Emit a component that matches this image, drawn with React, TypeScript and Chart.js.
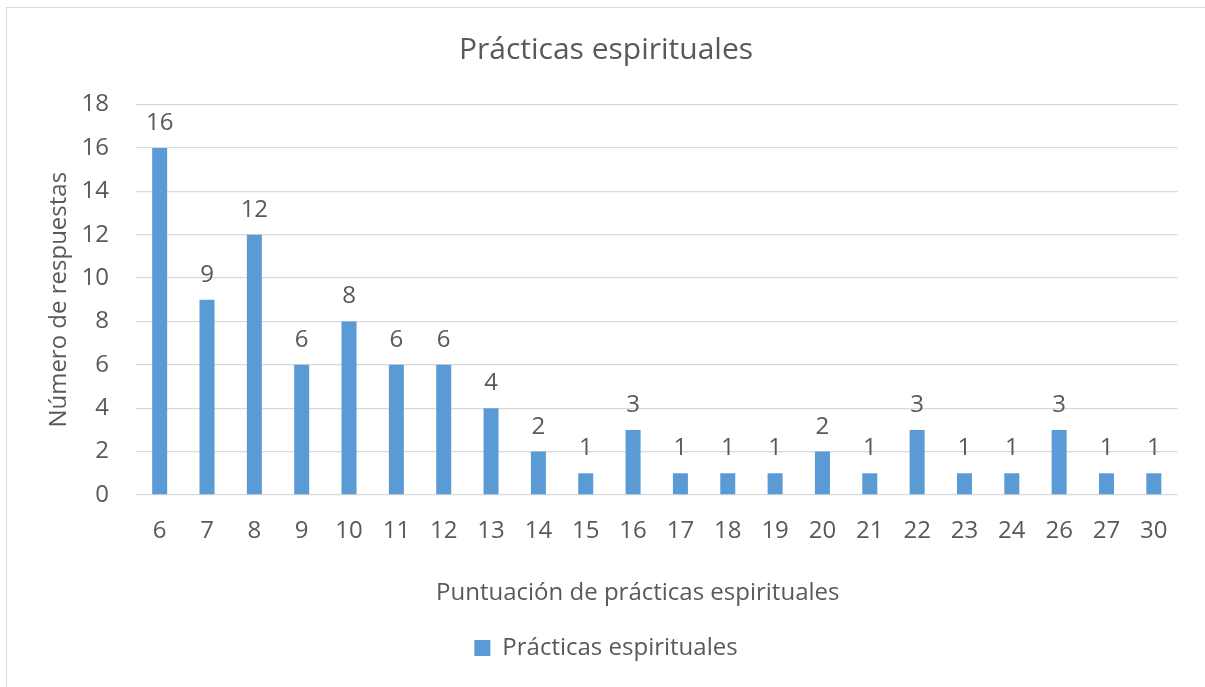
import React, { useEffect, useRef } from "react";
import { Chart, registerables } from "chart.js";

Chart.register(...registerables);

const chartTitle = "Prácticas espirituales";
const seriesName = "Prácticas espirituales";
const xAxisTitle = "Puntuación de prácticas espirituales";
const yAxisTitle = "Número de respuestas";
const categories = ["6", "7", "8", "9", "10", "11", "12", "13", "14", "15", "16", "17", "18", "19", "20", "21", "22", "23", "24", "26", "27", "30"];
const values = [16, 9, 12, 6, 8, 6, 6, 4, 2, 1, 3, 1, 1, 1, 2, 1, 3, 1, 1, 3, 1, 1];
const yMin = 0;
const yMax = 18;
const yStep = 2;

const FONT = "'Open Sans', 'Noto Sans', sans-serif";
const TEXT = "#595959";
const BAR = "#5B9BD5";
const GRID = "#d9d9d9";
const SIZE = 24;

const dataLabels = {
  id: "dataLabels",
  afterDatasetsDraw(chart: any) {
    const ctx = chart.ctx;
    const meta = chart.getDatasetMeta(0);
    ctx.save();
    ctx.font = `${SIZE}px ${FONT}`;
    ctx.fillStyle = TEXT;
    ctx.textAlign = "center";
    ctx.textBaseline = "alphabetic";
    meta.data.forEach((el: any, i: number) => {
      ctx.fillText(String(values[i]), el.x, el.y - 18);
    });
    ctx.restore();
  },
};

const xTitlePlugin = {
  id: "xTitle",
  afterDraw(chart: any) {
    const ctx = chart.ctx;
    const { left, right } = chart.chartArea;
    const xs = chart.scales.x;
    ctx.save();
    ctx.font = `${SIZE}px ${FONT}`;
    ctx.fillStyle = TEXT;
    ctx.textAlign = "center";
    ctx.textBaseline = "middle";
    ctx.fillText(xAxisTitle, (left + right) / 2 - 19, xs.bottom - 33);
    ctx.restore();
  },
};

export default function App() {
  const ref = useRef<HTMLCanvasElement>(null);
  useEffect(() => {
    const chart = new Chart(ref.current!, {
      type: "bar",
      data: {
        labels: categories,
        datasets: [
          {
            label: seriesName,
            data: values,
            backgroundColor: BAR,
            borderWidth: 0,
            barPercentage: 0.317,
            categoryPercentage: 1,
          },
        ],
      },
      options: {
        responsive: false,
        animation: false,
        layout: { padding: { left: 7, right: 0, top: 0, bottom: 17 } },
        plugins: {
          title: {
            display: true,
            text: chartTitle,
            color: TEXT,
            font: { family: FONT, size: 30, weight: "normal", lineHeight: 1.2 },
            padding: { top: 32, bottom: 36.5 },
          },
          legend: {
            display: true,
            position: "bottom",
            labels: {
              color: TEXT,
              font: { family: FONT, size: SIZE },
              boxWidth: 16,
              boxHeight: 16,
              padding: 10,
            },
          },
          tooltip: { enabled: false },
        },
        scales: {
          x: {
            grid: { display: false, drawTicks: false },
            border: { display: false },
            ticks: { color: TEXT, font: { family: FONT, size: SIZE }, padding: 22, maxRotation: 0, autoSkip: false },
            title: { display: false },
            afterFit(scale: any) {
              scale.height = 131;
            },
          },
          y: {
            min: yMin,
            max: yMax,
            grid: { color: GRID, lineWidth: 1.3, drawTicks: false },
            border: { display: false },
            ticks: { stepSize: yStep, color: TEXT, font: { family: FONT, size: SIZE }, padding: 27 },
            title: {
              display: true,
              text: yAxisTitle,
              color: TEXT,
              font: { family: FONT, size: SIZE },
              padding: { top: 37.6, bottom: 0 },
            },
            afterFit(scale: any) {
              scale.width = 129;
            },
          },
          yRight: {
            position: "right",
            min: yMin,
            max: yMax,
            grid: { display: false, drawTicks: false },
            border: { display: false },
            ticks: { display: false },
            afterFit(scale: any) {
              scale.width = 27.5;
            },
          },
        },
      },
      plugins: [dataLabels, xTitlePlugin],
    });
    return () => chart.destroy();
  }, []);
  return (
    <div style={{ position: "fixed", left: 0, top: 0, width: 1205, height: 687, overflow: "hidden", background: "#fff" }}>
      <div style={{ position: "absolute", left: 6, top: 7, width: 1210, height: 690, border: `1px solid ${GRID}`, boxSizing: "border-box" }} />
      <canvas ref={ref} width={1205} height={687} style={{ position: "absolute", left: 0, top: 0 }} />
    </div>
  );
}
